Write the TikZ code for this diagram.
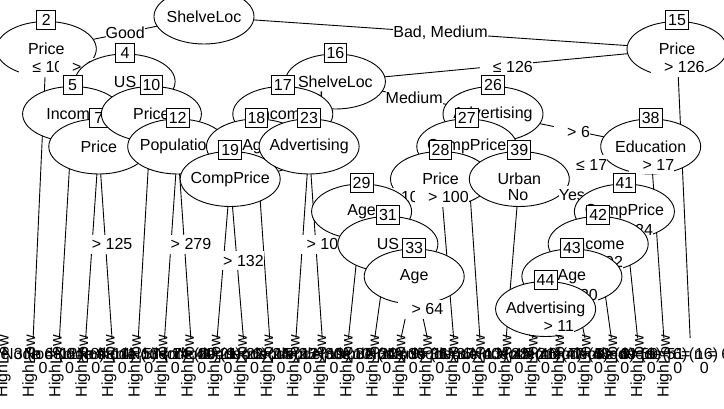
\documentclass[tikz,border=0pt]{standalone}
\usepackage{fontspec}
\setmainfont{Liberation Sans}
\usepackage{tikz}
\usetikzlibrary{shapes.geometric}
\newcommand{\treefont}{\fontsize{16}{19}\selectfont}
\newcommand{\vname}[1]{\makebox[0pt]{#1}}

\begin{document}
\begin{tikzpicture}[x=1pt, y=-1pt, font=\treefont, line width=0.9pt,
  inner/.style={ellipse,draw,fill=white,minimum width=100pt,minimum height=55pt,inner sep=0pt},
  idbox/.style={draw,fill=white,minimum width=19pt,minimum height=19pt,inner xsep=2.5pt,inner ysep=0pt},
  elab/.style={fill=white,inner xsep=0pt,inner ysep=0pt,minimum height=19pt},
  rotlab/.style={rotate=90,anchor=west,inner sep=0pt}]
\useasboundingbox (0,0) rectangle (724,409);
\clip (0,0) rectangle (724,409);
\fill[white] (0,0) rectangle (724,409);
% --- positions of the inner nodes ---
\coordinate (c1) at (204.0,16.5);
\coordinate (c2) at (46.3,49);
\coordinate (c4) at (125.1,81.5);
\coordinate (c5) at (72.6,114);
\coordinate (c7) at (98.8,146.5);
\coordinate (c10) at (151.4,114);
\coordinate (c12) at (177.7,146.5);
\coordinate (c15) at (677.0,49);
\coordinate (c16) at (335.4,81.5);
\coordinate (c17) at (282.8,114);
\coordinate (c18) at (256.5,146.5);
\coordinate (c19) at (230.2,179);
\coordinate (c23) at (309.1,146.5);
\coordinate (c26) at (493.0,114);
\coordinate (c27) at (466.8,146.5);
\coordinate (c28) at (440.5,179);
\coordinate (c29) at (361.6,211.5);
\coordinate (c31) at (387.9,244);
\coordinate (c33) at (414.2,276.5);
\coordinate (c38) at (650.7,146.5);
\coordinate (c39) at (519.3,179);
\coordinate (c41) at (624.4,211.5);
\coordinate (c42) at (598.2,244);
\coordinate (c43) at (571.9,276.5);
\coordinate (c44) at (545.6,309);
% --- tops of the terminal panels ---
\foreach \t [count=\k from 0] in {3,6,8,9,11,13,14,20,21,22,24,25,30,32,34,35,36,37,40,45,46,47,48,49,50,51}
  \coordinate (t\t) at ({33.14+26.28*\k},338);

% --- node 1 ---
\draw (c1)--(c2); \draw (c1)--(c15);
\node[inner] (n1) at (c1) {\vname{ShelveLoc}};
\node[elab] (e1a) at (125.2,32.8) {Good};
\node[elab] (e1b) at (440.5,32.8) {Bad, Medium};
% --- node 2 ---
\draw (c2)--(t3); \draw (c2)--(c4);
\node[inner] (n2) at (c2) {\vname{Price}};
\node[idbox] (b2) at ([yshift=29pt]c2) {2};
\node[elab] (e2a) at (45.6,67.3) {\phantom{0} ≤ 109};
\node[elab] (e2b) at (85.7,67.3) {\phantom{0} > 109};
% --- node 4 ---
\draw (c4)--(c5); \draw (c4)--(c10);
\node[inner] (n4) at (c4) {\vname{US}};
\node[idbox] (b4) at ([yshift=29pt]c4) {4};
% --- node 5 ---
\draw (c5)--(t6); \draw (c5)--(c7);
\node[inner] (n5) at (c5) {\vname{Income}};
\node[idbox] (b5) at ([yshift=29pt]c5) {5};
% --- node 7 ---
\draw (c7)--(t8); \draw (c7)--(t9);
\node[inner] (n7) at (c7) {\vname{Price}};
\node[idbox] (b7) at ([yshift=29pt]c7) {7};
\node[elab] (e7b) at (105.4,244.3) {\phantom{0} > 125};
% --- node 10 ---
\draw (c10)--(t11); \draw (c10)--(c12);
\node[inner] (n10) at (c10) {\vname{Price}};
\node[idbox] (b10) at ([yshift=29pt]c10) {10};
% --- node 12 ---
\draw (c12)--(t13); \draw (c12)--(t14);
\node[inner] (n12) at (c12) {\vname{Population}};
\node[idbox] (b12) at ([yshift=29pt]c12) {12};
\node[elab] (e12b) at (184.3,244.3) {\phantom{0} > 279};
% --- node 15 ---
\draw (c15)--(c16); \draw (c15)--(t51);
\node[inner] (n15) at (c15) {\vname{Price}};
\node[idbox] (b15) at ([yshift=29pt]c15) {15};
\node[elab] (e15a) at (506.2,67.3) {\phantom{0} ≤ 126};
\node[elab] (e15b) at (677.7,67.3) {\phantom{0} > 126};
% --- node 16 ---
\draw (c16)--(c17); \draw (c16)--(c26);
\node[inner] (n16) at (c16) {\vname{ShelveLoc}};
\node[idbox] (b16) at ([yshift=29pt]c16) {16};
\node[elab] (e16a) at (309.1,97.8) {Bad};
\node[elab] (e16b) at (414.2,97.8) {Medium};
% --- node 17 ---
\draw (c17)--(c18); \draw (c17)--(c23);
\node[inner] (n17) at (c17) {\vname{Income}};
\node[idbox] (b17) at ([yshift=29pt]c17) {17};
% --- node 18 ---
\draw (c18)--(c19); \draw (c18)--(t22);
\node[inner] (n18) at (c18) {\vname{Age}};
\node[idbox] (b18) at ([yshift=29pt]c18) {18};
% --- node 19 ---
\draw (c19)--(t20); \draw (c19)--(t21);
\node[inner] (n19) at (c19) {\vname{CompPrice}};
\node[idbox] (b19) at ([yshift=29pt]c19) {19};
\node[elab] (e19b) at (236.8,260.5) {\phantom{0} > 132};
% --- node 23 ---
\draw (c23)--(t24); \draw (c23)--(t25);
\node[inner] (n23) at (c23) {\vname{Advertising}};
\node[idbox] (b23) at ([yshift=29pt]c23) {23};
\node[elab] (e23b) at (315.7,244.3) {\phantom{0} > 10};
% --- node 26 ---
\draw (c26)--(c27); \draw (c26)--(c38);
\node[inner] (n26) at (c26) {\vname{Advertising}};
\node[idbox] (b26) at ([yshift=29pt]c26) {26};
\node[elab] (e26b) at (571.9,132.3) {\phantom{0} > 6};
% --- node 27 ---
\draw (c27)--(c28); \draw (c27)--(t37);
\node[inner] (n27) at (c27) {\vname{CompPrice}};
\node[idbox] (b27) at ([yshift=29pt]c27) {27};
% --- node 28 ---
\draw (c28)--(c29); \draw (c28)--(t36);
\node[inner] (n28) at (c28) {\vname{Price}};
\node[idbox] (b28) at ([yshift=29pt]c28) {28};
\node[elab] (e28a) at (401.1,197.3) {\phantom{0} ≤ 100};
\node[elab] (e28b) at (441.8,197.3) {\phantom{0} > 100};
% --- node 29 ---
\draw (c29)--(t30); \draw (c29)--(c31);
\node[inner] (n29) at (c29) {\vname{Age}};
\node[idbox] (b29) at ([yshift=29pt]c29) {29};
% --- node 31 ---
\draw (c31)--(t32); \draw (c31)--(c33);
\node[inner] (n31) at (c31) {\vname{US}};
\node[idbox] (b31) at ([yshift=29pt]c31) {31};
% --- node 33 ---
\draw (c33)--(t34); \draw (c33)--(t35);
\node[inner] (n33) at (c33) {\vname{Age}};
\node[idbox] (b33) at ([yshift=29pt]c33) {33};
\node[elab] (e33b) at (420.8,309.3) {\phantom{0} > 64};
% --- node 38 ---
\draw (c38)--(c39); \draw (c38)--(t50);
\node[inner] (n38) at (c38) {\vname{Education}};
\node[idbox] (b38) at ([yshift=29pt]c38) {38};
\node[elab] (e38a) at (585.0,164.8) {\phantom{0} ≤ 17};
\node[elab] (e38b) at (651.8,164.8) {\phantom{0} > 17};
% --- node 39 ---
\draw (c39)--(t40); \draw (c39)--(c41);
\node[inner] (n39) at (c39) {\vname{Urban}};
\node[idbox] (b39) at ([yshift=29pt]c39) {39};
\node[elab] (e39a) at (518.0,195.3) {No};
\node[elab] (e39b) at (571.9,195.3) {Yes};
% --- node 41 ---
\draw (c41)--(c42); \draw (c41)--(t49);
\node[inner] (n41) at (c41) {\vname{CompPrice}};
\node[idbox] (b41) at ([yshift=29pt]c41) {41};
\node[elab] (e41b) at (626.1,229.8) {\phantom{0} > 124};
% --- node 42 ---
\draw (c42)--(c43); \draw (c42)--(t48);
\node[inner] (n42) at (c42) {\vname{Income}};
\node[idbox] (b42) at ([yshift=29pt]c42) {42};
\node[elab] (e42b) at (600.5,262.3) {\phantom{0} > 92};
% --- node 43 ---
\draw (c43)--(c44); \draw (c43)--(t47);
\node[inner] (n43) at (c43) {\vname{Age}};
\node[idbox] (b43) at ([yshift=29pt]c43) {43};
\node[elab] (e43b) at (575.4,294.8) {\phantom{0} > 30};
% --- node 44 ---
\draw (c44)--(t45); \draw (c44)--(t46);
\node[inner] (n44) at (c44) {\vname{Advertising}};
\node[idbox] (b44) at ([yshift=29pt]c44) {44};
\node[elab] (e44b) at (552.2,325.5) {\phantom{0} > 11};

% --- terminal panels ---
\foreach \t/\n [count=\k from 0] in {3/12,6/8,8/14,9/5,11/7,13/41,14/9,20/6,21/15,22/12,24/19,25/10,30/22,32/9,34/11,35/6,36/13,37/28,40/21,45/7,46/5,47/8,48/9,49/6,50/16,51/61}{
  \node[rotlab] (hi\t) at ({3.3+26.45*\k},398) {High};
  \node[rotlab] (lo\t) at ({3.3+26.45*\k},365) {Low};
  \node (nl\t) at ({27.14+26.28*\k},355) {Node \t{} (n = \n)};
  \node (z\t) at ({43+26.45*\k},368) {0};
}
\end{tikzpicture}
\end{document}
